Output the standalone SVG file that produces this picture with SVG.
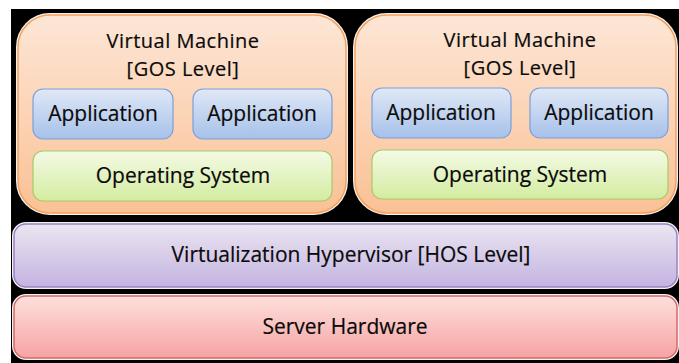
<svg xmlns="http://www.w3.org/2000/svg" width="679" height="363" viewBox="0 0 679 363">
<defs>
<linearGradient id="gVm" x1="0" y1="0" x2="0" y2="1"><stop offset="0" stop-color="#fde6d6"/><stop offset="1" stop-color="#fac195"/></linearGradient>
<linearGradient id="gApp" x1="0" y1="0" x2="0" y2="1"><stop offset="0" stop-color="#e0e8f6"/><stop offset="1" stop-color="#a6c1ea"/></linearGradient>
<linearGradient id="gOs" x1="0" y1="0" x2="0" y2="1"><stop offset="0" stop-color="#f4fae6"/><stop offset="1" stop-color="#d3ec9f"/></linearGradient>
<linearGradient id="gHv" x1="0" y1="0" x2="0" y2="1"><stop offset="0" stop-color="#ebe6f0"/><stop offset="1" stop-color="#c3b3e2"/></linearGradient>
<linearGradient id="gHw" x1="0" y1="0" x2="0" y2="1"><stop offset="0" stop-color="#fde0dc"/><stop offset="1" stop-color="#f6a3a3"/></linearGradient>
</defs>
<style>
.halo{fill:none;stroke:#f2f2f2;stroke-width:4}
.vm{fill:url(#gVm);stroke:#f5a15e;stroke-width:1.5}
.app{fill:url(#gApp);stroke:#7c9fd6;stroke-width:1.2}
.os{fill:url(#gOs);stroke:#a8c96a;stroke-width:1.2}
.hv{fill:url(#gHv);stroke:#9a82c4;stroke-width:1.5}
.hw{fill:url(#gHw);stroke:#d46a68;stroke-width:1.5}
text{font-family:"Open Sans","DejaVu Sans",sans-serif;font-size:21px;fill:#0a0a0a;stroke:#0a0a0a;stroke-width:0.2;text-anchor:middle}
text.title{font-size:20px;letter-spacing:0.5px}
</style>
<rect x="11" y="9" width="668" height="354" fill="#000"/>
<g id="vm1">
<rect class="halo" x="18" y="15" width="328" height="198" rx="32"/>
<rect class="vm" x="18" y="15" width="328" height="198" rx="32"/>
<text class="title" x="183" y="48">Virtual Machine</text>
<text class="title" x="183" y="76">[GOS Level]</text>
</g>
<g id="vm1-app1"><rect class="app" x="33" y="89" width="140" height="50" rx="10"/><text x="103" y="121">Application</text></g>
<g id="vm1-app2"><rect class="app" x="193" y="89" width="139" height="50" rx="10"/><text x="262" y="121">Application</text></g>
<g id="vm1-os"><rect class="os" x="33" y="151" width="299" height="50" rx="10"/><text x="183" y="183">Operating System</text></g>
<g id="vm2">
<rect class="halo" x="355" y="15" width="321" height="198" rx="32"/>
<rect class="vm" x="355" y="15" width="321" height="198" rx="32"/>
<text class="title" x="520" y="47">Virtual Machine</text>
<text class="title" x="520" y="75">[GOS Level]</text>
</g>
<g id="vm2-app1"><rect class="app" x="372" y="88" width="139" height="50" rx="10"/><text x="441" y="120">Application</text></g>
<g id="vm2-app2"><rect class="app" x="530" y="88" width="138" height="50" rx="10"/><text x="599" y="120">Application</text></g>
<g id="vm2-os"><rect class="os" x="372" y="150" width="296" height="49" rx="10"/><text x="520" y="182">Operating System</text></g>
<g id="hypervisor">
<rect class="halo" x="14" y="224" width="663" height="63" rx="12"/>
<rect class="hv" x="14" y="224" width="663" height="63" rx="12"/>
<text x="351" y="262">Virtualization Hypervisor [HOS Level]</text>
</g>
<g id="hardware">
<rect class="halo" x="14" y="296" width="663" height="62" rx="12"/>
<rect class="hw" x="14" y="296" width="663" height="62" rx="12"/>
<text x="345" y="334">Server Hardware</text>
</g>
<g id="connectors"/>
</svg>
